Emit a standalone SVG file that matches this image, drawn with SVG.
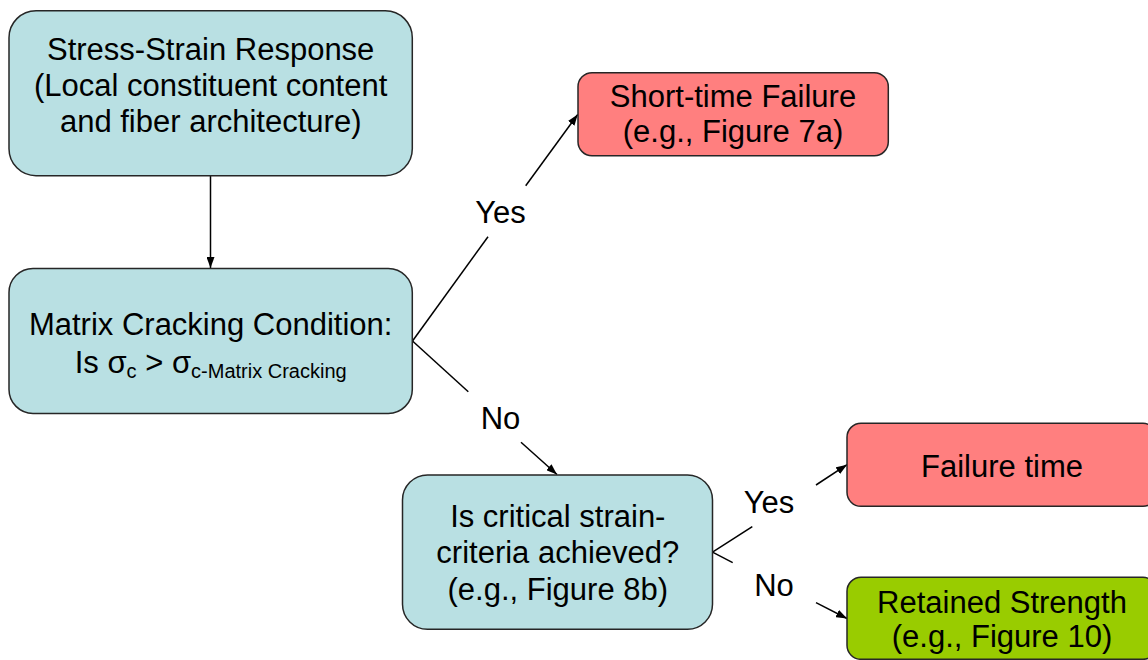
<svg xmlns="http://www.w3.org/2000/svg" width="1148" height="660" viewBox="0 0 1148 660">
  <defs>
    <style>
      .box { stroke: #262626; stroke-width: 1.5; }
      .blue { fill: #B9E0E3; }
      .red { fill: #FF7F7F; }
      .green { fill: #99CC00; }
      text { font-family: "Liberation Sans", Arial, sans-serif; font-size: 31px; fill: #000; text-anchor: middle; }
      .conn { stroke: #000; stroke-width: 1.5; fill: none; }
      .arrow { marker-end: url(#ah); }
    </style>
    <marker id="ah" markerUnits="userSpaceOnUse" markerWidth="11" markerHeight="8" refX="11" refY="4" orient="auto">
      <path d="M0,0 L11,4 L0,8 z" fill="#000"/>
    </marker>
  </defs>
  <rect width="1148" height="660" fill="#FFFFFF"/>

  <g id="connectors">
    <line class="conn arrow" x1="210.5" y1="176" x2="210.5" y2="268"/>
    <line class="conn" x1="412.5" y1="341" x2="488" y2="236.7"/>
    <line class="conn arrow" x1="525.7" y1="185.7" x2="577.7" y2="114.5"/>
    <line class="conn" x1="412.5" y1="341" x2="468.3" y2="391.7"/>
    <line class="conn arrow" x1="521" y1="442.3" x2="557" y2="474.5"/>
    <line class="conn" x1="712.5" y1="552.2" x2="752.3" y2="526.7"/>
    <line class="conn arrow" x1="816" y1="485" x2="847" y2="464.7"/>
    <line class="conn" x1="712.5" y1="552.2" x2="732.7" y2="562.7"/>
    <line class="conn arrow" x1="816" y1="602.7" x2="847" y2="618.5"/>
    <text x="500.5" y="222.7">Yes</text>
    <text x="500.5" y="429">No</text>
    <text x="769" y="513.3">Yes</text>
    <text x="774" y="596">No</text>
  </g>

  <g id="node-stress-strain">
    <rect class="box blue" x="9" y="10.7" width="403.3" height="165" rx="27" ry="27"/>
    <text x="210.7" y="60">Stress-Strain Response</text>
    <text x="210.7" y="95.8">(Local constituent content</text>
    <text x="210.7" y="131.7">and fiber architecture)</text>
  </g>

  <g id="node-matrix-cracking">
    <rect class="box blue" x="9" y="268.4" width="403.3" height="145" rx="24" ry="24"/>
    <text x="210.7" y="335">Matrix Cracking Condition:</text>
    <text x="210.7" y="372.7">Is σ<tspan font-size="20" dy="5">c</tspan><tspan dy="-5"> &gt; σ</tspan><tspan font-size="20" dy="5">c-Matrix Cracking</tspan></text>
  </g>

  <g id="node-short-time-failure">
    <rect class="box red" x="578" y="72.7" width="310.3" height="83" rx="14" ry="14"/>
    <text x="733" y="106.7">Short-time Failure</text>
    <text x="733" y="141.7">(e.g., Figure 7a)</text>
  </g>

  <g id="node-critical-strain">
    <rect class="box blue" x="402.5" y="475" width="310" height="154.3" rx="25" ry="25"/>
    <text x="557.8" y="526.7">Is critical strain-</text>
    <text x="557.8" y="563.3">criteria achieved?</text>
    <text x="557.8" y="600">(e.g., Figure 8b)</text>
  </g>

  <g id="node-failure-time">
    <rect class="box red" x="847" y="423.3" width="310" height="83" rx="14" ry="14"/>
    <text x="1002" y="476.7">Failure time</text>
  </g>

  <g id="node-retained-strength">
    <rect class="box green" x="847" y="577.3" width="310" height="82" rx="14" ry="14"/>
    <text x="1002" y="613.3">Retained Strength</text>
    <text x="1002" y="646.7">(e.g., Figure 10)</text>
  </g>
</svg>
